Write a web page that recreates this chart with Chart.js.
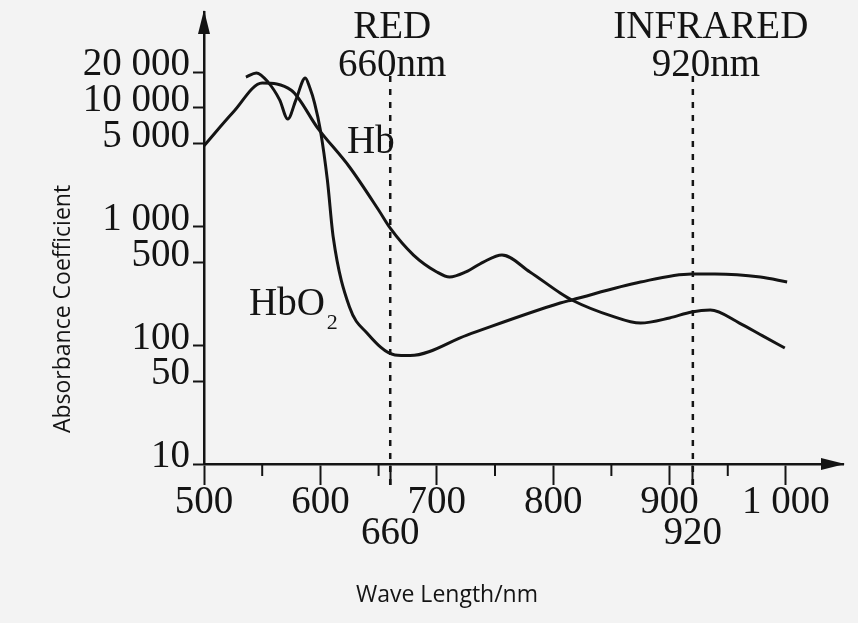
<!DOCTYPE html>
<html>
<head>
<meta charset="utf-8">
<script src="https://cdn.jsdelivr.net/npm/chart.js@4"></script>
<style>
  html, body { margin: 0; padding: 0; background: #f3f3f3; }
  #wrap { width: 858px; height: 623px; position: relative; }
</style>
</head>
<body>
<div id="wrap"><canvas id="absorbChart"></canvas></div>
<script>
// Absorption spectra of Hb and HbO2
const hbWavelengths = [500, 525, 550, 575, 598, 625, 650, 660, 680, 700, 711, 725, 740, 756, 780, 806, 816, 850, 875, 900, 919, 935, 960, 980, 999];
const hbValues = [4800, 9200, 16200, 14100, 6700, 3180, 1380, 970, 576, 415, 376, 415, 503, 576, 415, 276, 241, 177, 154, 170, 191, 198, 154, 120, 95];

const hbo2Wavelengths = [536, 545, 555, 565, 572, 579, 587, 591, 595, 600, 606, 611, 625, 640, 664, 677, 726, 806, 816, 875, 919, 939, 978, 1001];
const hbo2Values = [18200, 19700, 16500, 11700, 8060, 11700, 17900, 14700, 11000, 6500, 2470, 817, 210, 127, 83, 82, 122, 227, 241, 341, 399, 399, 376, 341];

const xTickValues = [500, 600, 660, 700, 800, 900, 920, 1000];
const xMinorTicks = [550, 650, 750, 850, 950];
const yTickValues = [10, 50, 100, 500, 1000, 5000, 10000, 20000];
const yTickLabels = ['10', '50', '100', '500', '1 000', '5 000', '10 000', '20 000'];

const markerWavelengths = [660, 920];
const markerNames = ['RED', 'INFRARED'];

const serif = '"Liberation Serif", "Times New Roman", serif';
const ink = '#141414';

const toPoints = (xs, ys) => xs.map((x, i) => ({ x: x, y: ys[i] }));

// draws arrows, minor ticks, dotted markers and the text labels
const decorations = {
  id: 'decorations',
  beforeDraw(chart) {
    const c = chart.ctx;
    c.save();
    c.fillStyle = '#f3f3f3';
    c.fillRect(0, 0, chart.width, chart.height);
    c.restore();
  },
  afterDraw(chart) {
    const c = chart.ctx;
    const xs = chart.scales.x;
    const ys = chart.scales.y;
    const area = chart.chartArea;
    const axisY = area.bottom;
    c.save();
    c.strokeStyle = ink;
    c.fillStyle = ink;

    // minor ticks
    c.lineWidth = 2;
    xMinorTicks.forEach(v => {
      const px = xs.getPixelForValue(v);
      c.beginPath();
      c.moveTo(px, axisY);
      c.lineTo(px, axisY + 12);
      c.stroke();
    });

    // arrow heads
    c.beginPath();
    c.moveTo(area.left, area.top - 2);
    c.lineTo(area.left - 6, area.top + 22);
    c.lineTo(area.left + 6, area.top + 22);
    c.closePath();
    c.fill();
    c.beginPath();
    c.moveTo(area.right + 2, axisY);
    c.lineTo(area.right - 22, axisY - 6);
    c.lineTo(area.right - 22, axisY + 6);
    c.closePath();
    c.fill();

    // dotted marker lines
    c.lineWidth = 2.5;
    c.setLineDash([6, 7]);
    markerWavelengths.forEach(v => {
      const px = xs.getPixelForValue(v);
      c.beginPath();
      c.moveTo(px, 76);
      c.lineTo(px, axisY + 21);
      c.stroke();
    });
    c.setLineDash([]);

    // marker captions
    c.font = '39px ' + serif;
    c.textAlign = 'center';
    c.textBaseline = 'alphabetic';
    markerWavelengths.forEach((v, i) => {
      const px = xs.getPixelForValue(v);
      c.fillText(markerNames[i], px + (i === 0 ? 2 : 18), 38);
      c.fillText(v + 'nm', px + (i === 0 ? 2 : 13), 76);
    });

    // curve names
    c.textAlign = 'left';
    c.fillText('Hb', 347, 153);
    c.fillText('HbO', 249, 315);
    const w = c.measureText('HbO').width;
    c.font = '22px ' + serif;
    c.fillText('2', 249 + w + 2, 329);

    // axis titles
    c.font = '23px "Open Sans", sans-serif';
    c.textAlign = 'center';
    c.fillText('Wave Length/nm', 447, 602);
    c.translate(70, 309);
    c.rotate(-Math.PI / 2);
    c.fillText('Absorbance Coefficient', 0, 0);
    c.restore();
  }
};

const lineStyle = {
  borderColor: ink,
  borderWidth: 3,
  pointRadius: 0,
  fill: false,
  cubicInterpolationMode: 'monotone'
};

new Chart(document.getElementById('absorbChart'), {
  type: 'line',
  data: {
    datasets: [
      Object.assign({ label: 'Hb', data: toPoints(hbWavelengths, hbValues) }, lineStyle),
      Object.assign({ label: 'HbO2', data: toPoints(hbo2Wavelengths, hbo2Values) }, lineStyle)
    ]
  },
  options: {
    responsive: true,
    maintainAspectRatio: false,
    animation: false,
    devicePixelRatio: 1,
    layout: { padding: { left: 0, right: 15, top: 12, bottom: 0 } },
    plugins: {
      legend: { display: false },
      tooltip: { enabled: false }
    },
    scales: {
      x: {
        type: 'linear',
        min: 500,
        max: 1049,
        afterBuildTicks: s => { s.ticks = xTickValues.map(v => ({ value: v })); },
        afterFit: s => { s.height = 159; s.paddingLeft = 0; s.paddingRight = 0; },
        ticks: {
          autoSkip: false,
          maxRotation: 0,
          padding: 2,
          color: ink,
          font: { family: serif, size: 39, lineHeight: 0.8 },
          callback: v => {
            if (markerWavelengths.includes(v)) return ['', String(v)];
            return v === 1000 ? '1 000' : String(v);
          }
        },
        grid: { drawOnChartArea: false, tickLength: 21, tickWidth: 2, tickColor: ink },
        border: { color: ink, width: 2.5 }
      },
      y: {
        type: 'logarithmic',
        min: 10,
        max: 64300,
        afterBuildTicks: s => { s.ticks = yTickValues.map(v => ({ value: v })); },
        afterFit: s => { s.width = 204; s.paddingTop = 0; s.paddingBottom = 0; },
        ticks: {
          padding: 3,
          labelOffset: -7,
          color: ink,
          font: { family: serif, size: 39 },
          callback: v => {
            const i = yTickValues.indexOf(v);
            return i >= 0 ? yTickLabels[i] : '';
          }
        },
        grid: { drawOnChartArea: false, tickLength: 11, tickWidth: 2, tickColor: ink },
        border: { color: ink, width: 2.5 }
      }
    }
  },
  plugins: [decorations]
});
</script>
</body>
</html>
